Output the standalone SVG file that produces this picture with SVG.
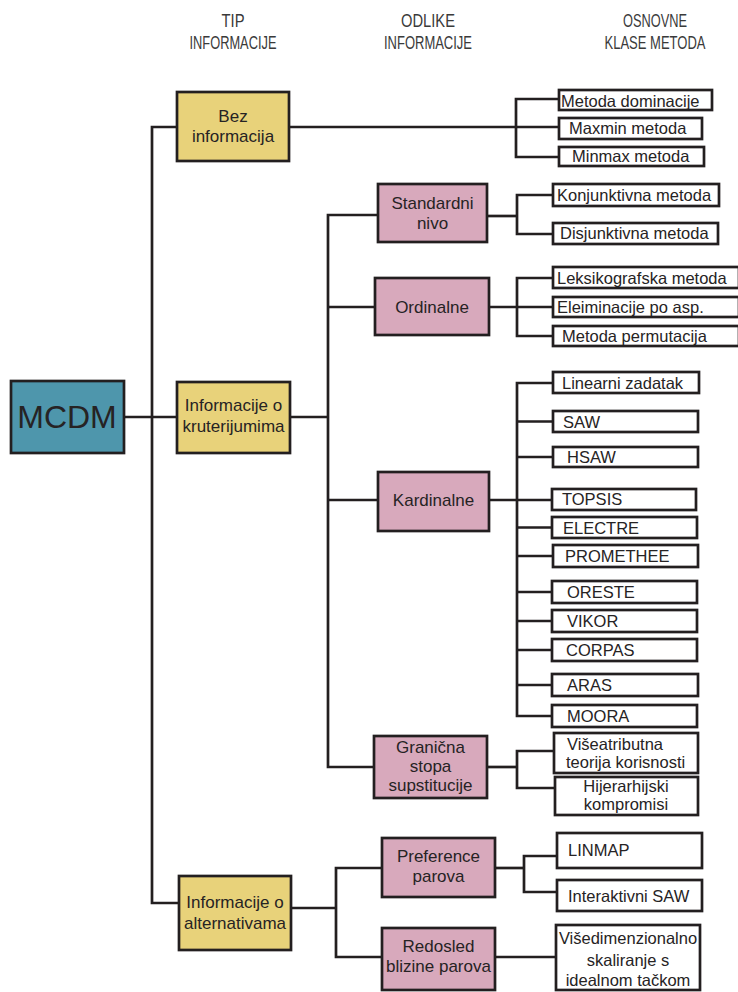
<svg xmlns="http://www.w3.org/2000/svg" width="738" height="992" viewBox="0 0 738 992">
<style>
text{font-family:"Liberation Sans",Arial,sans-serif;fill:#262324}
.h{font-size:18px;fill:#3a3a3a;text-anchor:middle}
.n{font-size:17px;text-anchor:middle}
.m{font-size:16.5px}
.mc{font-size:16.5px;text-anchor:middle}
.y{fill:#E8D27A;stroke:#231f20;stroke-width:2.7}
.p{fill:#D8A9BC;stroke:#231f20;stroke-width:2.7}
.t{fill:#4E96AC;stroke:#231f20;stroke-width:2.7}
.w{fill:#fff;stroke:#231f20;stroke-width:2.7}
.c path{fill:none;stroke:#231f20;stroke-width:2.7}
</style>
<rect width="738" height="992" fill="#fff"/>
<g id="headers">
<text class="h" x="233" y="27" textLength="23" lengthAdjust="spacingAndGlyphs">TIP</text>
<text class="h" x="233" y="49" textLength="87" lengthAdjust="spacingAndGlyphs">INFORMACIJE</text>
<text class="h" x="428" y="27" textLength="54" lengthAdjust="spacingAndGlyphs">ODLIKE</text>
<text class="h" x="428" y="49" textLength="88" lengthAdjust="spacingAndGlyphs">INFORMACIJE</text>
<text class="h" x="655" y="27" textLength="64" lengthAdjust="spacingAndGlyphs">OSNOVNE</text>
<text class="h" x="655" y="49" textLength="101" lengthAdjust="spacingAndGlyphs">KLASE METODA</text>
</g>
<g class="c" id="connectors">
<path d="M124,417 H177"/>
<path d="M177,127 H152 V903 H179"/>
<path d="M289,127 H559"/>
<path d="M559,99 H516 V157 H559"/>
<path d="M290,417 H328"/>
<path d="M378,215 H328 V767 H374"/>
<path d="M328,307 H375"/>
<path d="M328,500 H378"/>
<path d="M487,216 H517"/>
<path d="M553,195 H517 V234 H553"/>
<path d="M489,307 H553"/>
<path d="M553,278 H517 V336 H553"/>
<path d="M489,500 H552"/>
<path d="M553,383 H517 V716 H552"/>
<path d="M517,421.5 H553 M517,457 H553 M517,527.5 H552 M517,556 H553 M517,592 H552 M517,621 H552 M517,650 H552 M517,685 H552"/>
<path d="M487,767 H517"/>
<path d="M554,751 H517 V788 H555"/>
<path d="M291,908 H336"/>
<path d="M382,868 H336 V957 H382"/>
<path d="M495,868 H524"/>
<path d="M557,856 H524 V892 H557"/>
<path d="M495,957 H556"/>
</g>
<g id="mcdm"><rect class="t" x="11" y="381" width="113" height="72"/><text x="67" y="428" style="font-size:32px;text-anchor:middle">MCDM</text></g>
<g id="bez"><rect class="y" x="177" y="92" width="112" height="69"/><text class="n" x="233" y="122">Bez</text><text class="n" x="233" y="142">informacija</text></g>
<g id="kriterijumi"><rect class="y" x="177" y="382" width="113" height="71"/><text class="n" x="233.5" y="411">Informacije o</text><text class="n" x="233.5" y="432">kruterijumima</text></g>
<g id="alternative"><rect class="y" x="179" y="876" width="112" height="74"/><text class="n" x="235" y="908">Informacije o</text><text class="n" x="235" y="929">alternativama</text></g>
<g id="standardni"><rect class="p" x="378" y="184" width="109" height="58"/><text class="n" x="432.5" y="208.5">Standardni</text><text class="n" x="432.5" y="228.5">nivo</text></g>
<g id="ordinalne"><rect class="p" x="375" y="278" width="114" height="57"/><text class="n" x="432" y="313">Ordinalne</text></g>
<g id="kardinalne"><rect class="p" x="378" y="472" width="111" height="59"/><text class="n" x="433.5" y="506">Kardinalne</text></g>
<g id="granicna"><rect class="p" x="374" y="736" width="113" height="62"/><text class="n" x="430.5" y="753">Granična</text><text class="n" x="430.5" y="772">stopa</text><text class="n" x="430.5" y="791">supstitucije</text></g>
<g id="preference"><rect class="p" x="382" y="838" width="113" height="59"/><text class="n" x="438.5" y="862">Preference</text><text class="n" x="438.5" y="882">parova</text></g>
<g id="redosled"><rect class="p" x="382" y="928" width="113" height="62"/><text class="n" x="438.5" y="952">Redosled</text><text class="n" x="438.5" y="972">blizine parova</text></g>
<g id="m-dominacija"><rect class="w" x="559" y="90" width="153" height="20"/><text class="m" x="561" y="107">Metoda dominacije</text></g>
<g id="m-maxmin"><rect class="w" x="559" y="118" width="143" height="21"/><text class="m" x="569" y="134">Maxmin metoda</text></g>
<g id="m-minmax"><rect class="w" x="559" y="147" width="145" height="19"/><text class="m" x="572" y="162">Minmax metoda</text></g>
<g id="m-konjunktivna"><rect class="w" x="553" y="184" width="166" height="22"/><text class="m" x="557" y="201">Konjunktivna metoda</text></g>
<g id="m-disjunktivna"><rect class="w" x="553" y="223" width="165" height="21"/><text class="m" x="560" y="239">Disjunktivna metoda</text></g>
<g id="m-leksikografska"><rect class="w" x="553" y="267" width="186" height="21"/><text class="m" x="557" y="284">Leksikografska metoda</text></g>
<g id="m-eliminacije"><rect class="w" x="553" y="297" width="186" height="20"/><text class="m" x="557" y="313">Eleiminacije po asp.</text></g>
<g id="m-permutacija"><rect class="w" x="553" y="326" width="186" height="20"/><text class="m" x="562" y="342">Metoda permutacija</text></g>
<g id="m-linearni"><rect class="w" x="553" y="372" width="146" height="21"/><text class="m" x="562" y="389">Linearni zadatak</text></g>
<g id="m-saw"><rect class="w" x="553" y="411" width="145" height="21"/><text class="m" x="563" y="428">SAW</text></g>
<g id="m-hsaw"><rect class="w" x="553" y="447" width="145" height="20"/><text class="m" x="567" y="463">HSAW</text></g>
<g id="m-topsis"><rect class="w" x="552" y="489" width="144" height="21"/><text class="m" x="562" y="505">TOPSIS</text></g>
<g id="m-electre"><rect class="w" x="552" y="517" width="145" height="21"/><text class="m" x="563" y="534">ELECTRE</text></g>
<g id="m-promethee"><rect class="w" x="553" y="545" width="145" height="22"/><text class="m" x="565" y="562">PROMETHEE</text></g>
<g id="m-oreste"><rect class="w" x="552" y="581" width="145" height="22"/><text class="m" x="567" y="598">ORESTE</text></g>
<g id="m-vikor"><rect class="w" x="552" y="610" width="145" height="22"/><text class="m" x="567" y="627">VIKOR</text></g>
<g id="m-corpas"><rect class="w" x="552" y="639" width="145" height="22"/><text class="m" x="566" y="656">CORPAS</text></g>
<g id="m-aras"><rect class="w" x="552" y="674" width="146" height="22"/><text class="m" x="567" y="691">ARAS</text></g>
<g id="m-moora"><rect class="w" x="552" y="705" width="145" height="22"/><text class="m" x="567" y="722">MOORA</text></g>
<g id="m-viseatributna"><rect class="w" x="554" y="733" width="144" height="40"/><text class="m" x="567" y="750">Višeatributna</text><text class="m" x="566" y="768">teorija korisnosti</text></g>
<g id="m-hijerarhijski"><rect class="w" x="555" y="777" width="143" height="38"/><text class="mc" x="626" y="792">Hijerarhijski</text><text class="mc" x="626" y="810">kompromisi</text></g>
<g id="m-linmap"><rect class="w" x="557" y="833" width="145" height="35"/><text class="m" x="568" y="856">LINMAP</text></g>
<g id="m-interaktivni"><rect class="w" x="557" y="880" width="145" height="31"/><text class="m" x="568" y="902">Interaktivni SAW</text></g>
<g id="m-visedimenzionalno"><rect class="w" x="556" y="925" width="144" height="65"/><text class="mc" x="628" y="944">Višedimenzionalno</text><text class="mc" x="628" y="966">skaliranje s</text><text class="mc" x="628" y="986">idealnom tačkom</text></g>
</svg>
